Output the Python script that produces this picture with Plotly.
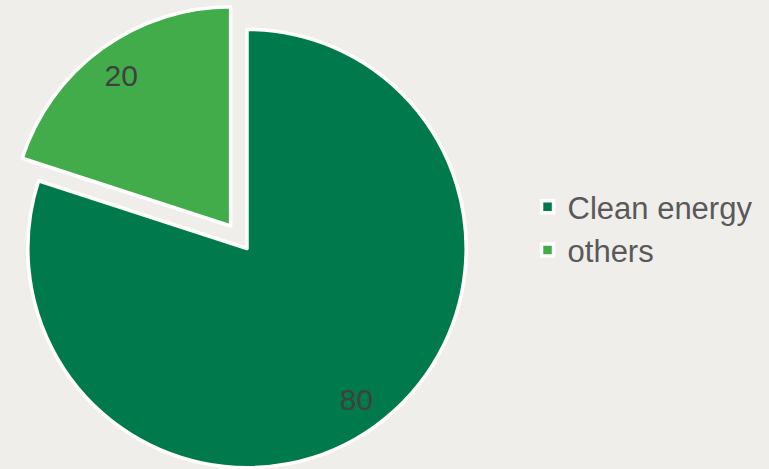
import plotly.graph_objects as go

labels = ["Clean energy", "others"]
values = [80, 20]
colors = ["#007A4D", "#43AC4A"]
pulls = [0, 0.127]

W, H = 769, 497
dom = dict(x=[0, 0.6424], y=[0, 1])

fig = go.Figure()
fig.add_trace(go.Pie(
    labels=labels,
    values=values,
    sort=False,
    direction="clockwise",
    rotation=0,
    pull=pulls,
    marker=dict(colors=colors, line=dict(color="white", width=3.5)),
    textinfo="none",
    domain=dom,
    hoverinfo="label+value",
))
# transparent ring carrying the value labels near the rim
fig.add_trace(go.Pie(
    labels=labels,
    values=values,
    sort=False,
    direction="clockwise",
    rotation=0,
    pull=pulls,
    hole=0.7,
    marker=dict(colors=["rgba(0,0,0,0)"] * len(values), line=dict(width=0)),
    textinfo="value",
    textposition="inside",
    insidetextorientation="horizontal",
    textfont=dict(family="Liberation Sans, Arial", size=30, color="#404040"),
    domain=dom,
    showlegend=False,
    hoverinfo="skip",
))

fig.update_layout(
    width=W, height=H,
    margin=dict(l=0, r=0, t=0, b=0),
    paper_bgcolor="#F0EEEB",
    plot_bgcolor="#F0EEEB",
    showlegend=True,
    legend=dict(
        x=0.686, y=0.54, xanchor="left", yanchor="middle",
        font=dict(family="Liberation Sans, Arial", size=31, color="#595959"),
        bgcolor="rgba(0,0,0,0)",
    ),
)

fig.write_html("out.html")
